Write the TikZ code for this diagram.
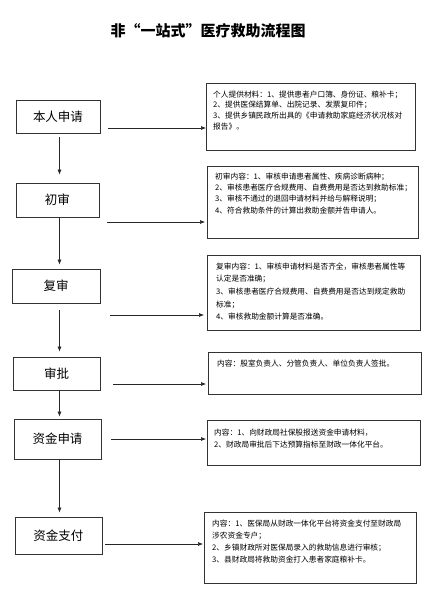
\documentclass[tikz,border=0pt]{standalone}
\usepackage{fontspec}
\setmainfont{Noto Sans CJK SC}
\usetikzlibrary{arrows.meta}
\begin{document}
\begin{tikzpicture}[x=1pt,y=-1pt,
  lbox/.style={draw=black!80, line width=0.7pt, inner sep=0pt, font=\fontsize{12.5}{14}\selectfont},
  rbox/.style={draw=black!80, line width=0.7pt, inner sep=0pt, anchor=north west},
  rtext/.style={inner sep=0pt, anchor=north west, align=left},
  arr/.style={line width=0.6pt, black!85, -{Latex[length=5pt,width=4pt]}}]
\useasboundingbox (0,0) rectangle (439,606);
\node[font=\fontsize{15}{18}\selectfont\bfseries] (title) at (208,31) {非“一站式”医疗救助流程图};

% left column
\node[lbox, minimum width=84pt, minimum height=33pt] (b1) at (58,116.5) {本人申请};
\node[lbox, minimum width=83pt, minimum height=34pt] (b2) at (57.5,200) {初审};
\node[lbox, minimum width=88pt, minimum height=34pt] (b3) at (56,286) {复审};
\node[lbox, minimum width=87pt, minimum height=33pt] (b4) at (56.5,373.5) {审批};
\node[lbox, minimum width=87pt, minimum height=40pt] (b5) at (57.5,439) {资金申请};
\node[lbox, minimum width=87pt, minimum height=37pt] (b6) at (58.5,535.5) {资金支付};

% right boxes
\node[rbox, minimum width=209pt, minimum height=67pt] (r1) at (206,83) {};
\node[rbox, minimum width=211pt, minimum height=72pt] (r2) at (207,166) {};
\node[rbox, minimum width=213pt, minimum height=75pt] (r3) at (207,255) {};
\node[rbox, minimum width=213pt, minimum height=42pt] (r4) at (208,352) {};
\node[rbox, minimum width=213pt, minimum height=45pt] (r5) at (207,420) {};
\node[rbox, minimum width=212pt, minimum height=71pt] (r6) at (204,512) {};

\node[rtext, font=\fontsize{7.7}{10.6}\selectfont] (t1) at (213,90.5) {个人提供材料：1、提供患者户口簿、身份证、粮补卡；\\2、提供医保结算单、出院记录、发票复印件；\\3、提供乡镇民政所出具的《申请救助家庭经济状况核对\\报告》。};
\node[rtext, font=\fontsize{7.7}{11.3}\selectfont] (t2) at (215,172.5) {初审内容：1、审核申请患者属性、疾病诊断病种；\\2、审核患者医疗合规费用、自费费用是否达到救助标准；\\3、审核不通过的退回申请材料并给与解释说明；\\4、符合救助条件的计算出救助金额并告申请人。};
\node[rtext, font=\fontsize{7.7}{12.6}\selectfont] (t3) at (216,262.5) {复审内容：1、审核申请材料是否齐全，审核患者属性等\\认定是否准确；\\3、审核患者医疗合规费用、自费费用是否达到规定救助\\标准；\\4、审核救助金额计算是否准确。};
\node[rtext, font=\fontsize{7.7}{12}\selectfont] (t4) at (217,359.5) {内容：股室负责人、分管负责人、单位负责人签批。};
\node[rtext, font=\fontsize{7.7}{12.3}\selectfont] (t5) at (214,428.5) {内容：1、向财政局社保股报送资金申请材料，\\2、财政局审批后下达预算指标至财政一体化平台。};
\node[rtext, font=\fontsize{7.7}{12}\selectfont] (t6) at (212,519.5) {内容：1、医保局从财政一体化平台将资金支付至财政局\\涉农资金专户；\\2、乡镇财政所对医保局录入的救助信息进行审核；\\3、县财政局将救助资金打入患者家庭粮补卡。};

% helper coordinates
\coordinate (spine) at (59.5,0);
\coordinate (h1) at (0,128);
\coordinate (h2) at (0,222);
\coordinate (h3) at (0,315);
\coordinate (h4) at (0,384);
\coordinate (h5) at (0,439);
\coordinate (h6) at (0,544);

% vertical arrows
\draw[arr, shorten <=4pt, shorten >=8pt] (b1.south -| spine) -- (b2.north -| spine);
\draw[arr, shorten >=4pt] (b2.south -| spine) -- (b3.north -| spine);
\draw[arr, shorten <=7pt, shorten >=5pt] (b3.south -| spine) -- (b4.north -| spine);
\draw[arr, shorten >=2pt] (b4.south -| spine) -- (b5.north -| spine);
\draw[arr, shorten >=4pt] (b5.south -| spine) -- (b6.north -| spine);

% horizontal arrows
\draw[arr, shorten <=8pt] (b1.east |- h1) -- (r1.west |- h1);
\draw[arr, shorten <=8pt, shorten >=2pt] (b2.east |- h2) -- (r2.west |- h2);
\draw[arr, shorten <=10pt, shorten >=3pt] (b3.east |- h3) -- (r3.west |- h3);
\draw[arr, shorten <=13pt, shorten >=2pt] (b4.east |- h4) -- (r4.west |- h4);
\draw[arr, shorten <=10pt, shorten >=1pt] (b5.east |- h5) -- (r5.west |- h5);
\draw[arr, shorten <=3pt, shorten >=1pt] (b6.east |- h6) -- (r6.west |- h6);
\end{tikzpicture}
\end{document}
